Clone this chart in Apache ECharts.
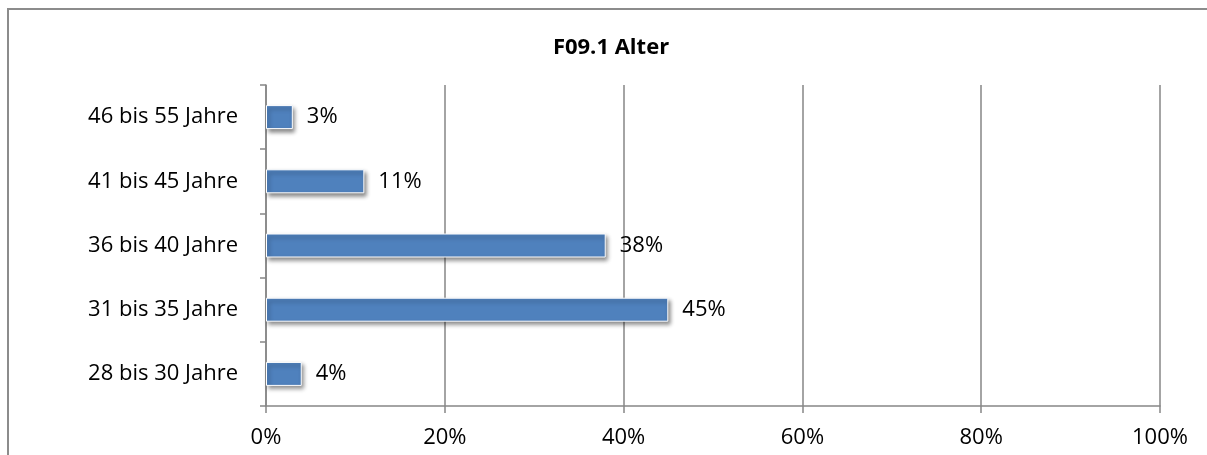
<!DOCTYPE html>
<html>
<head>
<meta charset="utf-8">
<script src="https://cdn.jsdelivr.net/npm/echarts@6/dist/echarts.min.js"></script>
<style>
  html, body { margin: 0; padding: 0; background: #fff; }
  #chart { width: 1207px; height: 455px; }
</style>
</head>
<body>
<div id="chart"></div>
<script>
// Altersgruppen (von unten nach oben)
const categories = ['28 bis 30 Jahre', '31 bis 35 Jahre', '36 bis 40 Jahre', '41 bis 45 Jahre', '46 bis 55 Jahre'];
// Anteile in Prozent
const shares = [4, 45, 38, 11, 3];
const titleText = 'F09.1 Alter';

const FONT = '"Open Sans", Lato, sans-serif';
const GRAY = '#868686';

const chart = echarts.init(document.getElementById('chart'), null, { renderer: 'canvas' });
chart.setOption({
  backgroundColor: '#ffffff',
  animation: false,
  title: {
    text: titleText,
    left: 606,
    textAlign: 'center',
    top: 32,
    textStyle: { fontFamily: FONT, fontSize: 22, fontWeight: 'bold', color: '#000' }
  },
  graphic: [{
    type: 'rect',
    shape: { x: 8, y: 9, width: 1220, height: 470 },
    style: { fill: 'none', stroke: '#8c8c8c', lineWidth: 2 },
    silent: true,
    z: -1
  }],
  grid: { left: 266, right: 47, top: 85, bottom: 49, containLabel: false },
  xAxis: {
    type: 'value',
    min: 0,
    max: 100,
    interval: 20,
    axisLine: { show: true, lineStyle: { color: GRAY, width: 1.5 } },
    axisTick: { show: true, length: 7, lineStyle: { color: GRAY, width: 1.5 } },
    splitLine: { show: true, lineStyle: { color: GRAY, width: 1.5 } },
    axisLabel: {
      formatter: '{value}%',
      margin: 21,
      fontFamily: FONT, fontSize: 22, color: '#000'
    }
  },
  yAxis: {
    type: 'category',
    data: categories,
    axisLine: { show: true, lineStyle: { color: GRAY, width: 1.5 } },
    axisTick: { show: true, length: 6, lineStyle: { color: GRAY, width: 1.5 } },
    axisLabel: { margin: 28, fontFamily: FONT, fontSize: 22, color: '#000' }
  },
  series: [{
    type: 'bar',
    data: shares,
    barWidth: 24,
    itemStyle: {
      color: '#4f81bd',
      borderColor: '#ffffff',
      borderWidth: 1,
      shadowColor: 'rgba(0,0,0,0.45)',
      shadowBlur: 4,
      shadowOffsetX: 2,
      shadowOffsetY: 3
    },
    label: {
      show: true,
      position: 'right',
      distance: 14,
      formatter: p => p.value + '%',
      fontFamily: FONT, fontSize: 22, color: '#000'
    }
  }]
});
</script>
</body>
</html>
